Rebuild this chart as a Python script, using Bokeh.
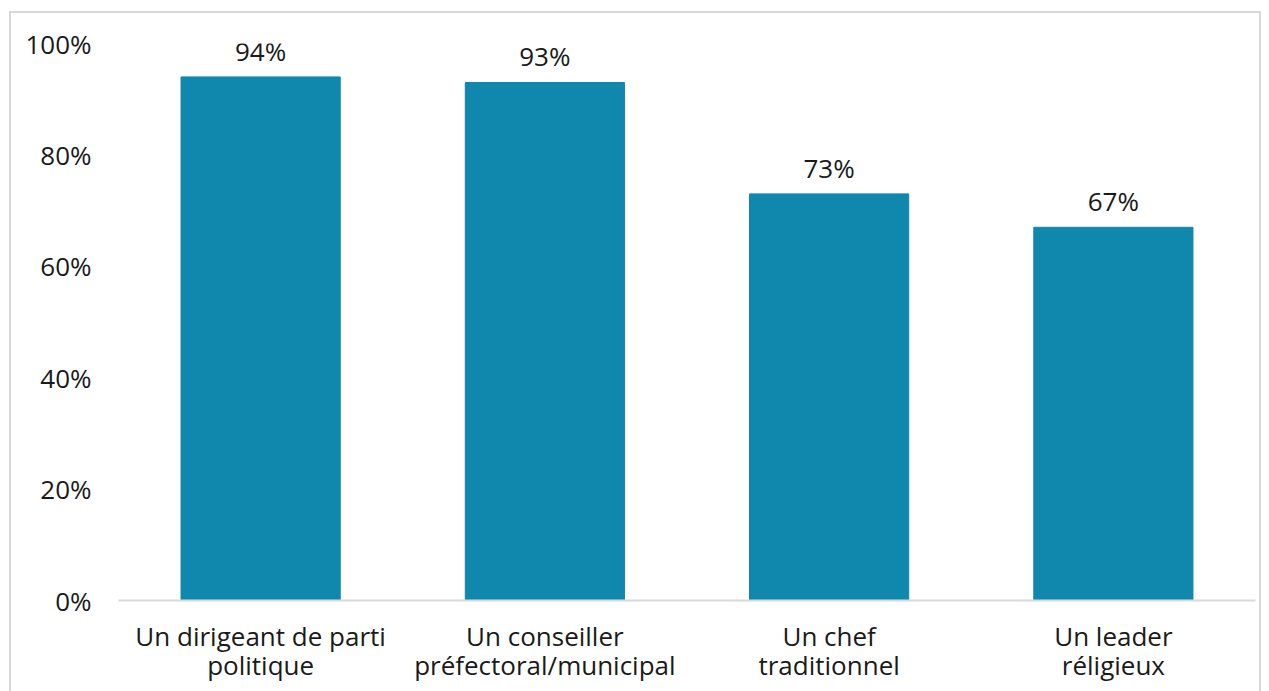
from bokeh.plotting import figure
from bokeh.models import ColumnDataSource, Range1d, FixedTicker, NumeralTickFormatter, FactorRange, LabelSet
from bokeh.core.properties import value
from bokeh.embed import file_html
from bokeh.resources import INLINE

categories = ["Un dirigeant de parti\npolitique", "Un conseiller\npréfectoral/municipal",
              "Un chef\ntraditionnel", "Un leader\nréligieux"]
values = [0.94, 0.93, 0.73, 0.67]
labels = ["94%", "93%", "73%", "67%"]
yticks = [0, 0.2, 0.4, 0.6, 0.8, 1.0]

FONT = "Open Sans"
TXT = "#1a1a1a"
FS = "26px"

src = ColumnDataSource(dict(x=categories, top=values, label=labels))

p = figure(x_range=FactorRange(*categories, range_padding=0), y_range=Range1d(0, 1.0),
           width=1252, height=690, output_backend="svg", toolbar_location=None,
           min_border_left=107, min_border_right=8, min_border_top=30, min_border_bottom=103)
p.styles = {"border": "2px solid #d9d9d9", "margin-left": "9px", "margin-top": "11px"}

p.vbar(x="x", top="top", width=0.56, source=src, color="#1087AC")
p.add_layout(LabelSet(x="x", y="top", text="label", source=src, text_align="center",
                      text_baseline="bottom", y_offset=8, text_font=value(FONT),
                      text_font_size=value(FS), text_color=value(TXT)))

p.xgrid.visible = False
p.ygrid.visible = False
p.outline_line_color = None

p.yaxis.ticker = FixedTicker(ticks=yticks)
p.yaxis.formatter = NumeralTickFormatter(format="0%")
p.yaxis.axis_line_color = None
p.yaxis.major_tick_line_color = None
p.yaxis.minor_tick_line_color = None
p.yaxis.major_label_standoff = 21
p.yaxis.major_label_text_font = FONT
p.yaxis.major_label_text_font_size = FS
p.yaxis.major_label_text_color = TXT

p.xaxis.axis_line_color = "#d9d9d9"
p.xaxis.axis_line_width = 2
p.xaxis.major_tick_line_color = None
p.xaxis.minor_tick_line_color = None
p.xaxis.major_label_standoff = 11
p.xaxis.major_label_text_font = FONT
p.xaxis.major_label_text_font_size = FS
p.xaxis.major_label_text_color = TXT
p.xaxis.major_label_text_line_height = 0.82

open("out.html", "w").write(file_html(p, INLINE))
